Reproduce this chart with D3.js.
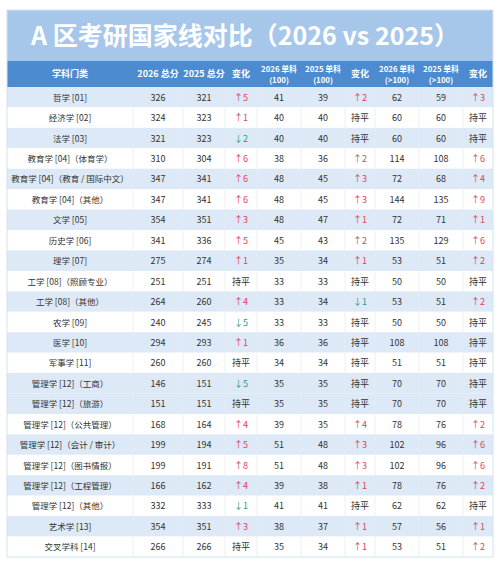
<!DOCTYPE html>
<html><head><meta charset="utf-8">
<script src="https://cdn.jsdelivr.net/npm/d3@7"></script>
<style>body{margin:0;background:#fff;}text{font-family:"Noto Sans CJK SC","Noto Sans",sans-serif;}</style>
</head><body><svg id="c" width="500" height="561"></svg>
<script>
const headers = [["学科门类"],["2026 总分"],["2025 总分"],["变化"],["2026 单科","(100)"],["2025 单科","(100)"],["变化"],["2026 单科","(>100)"],["2025 单科","(>100)"],["变化"]];
const subjects = ["哲学 [01]","经济学 [02]","法学 [03]","教育学 [04]（体育学）","教育学 [04]（教育 / 国际中文）","教育学 [04]（其他）","文学 [05]","历史学 [06]","理学 [07]","工学 [08]（照顾专业）","工学 [08]（其他）","农学 [09]","医学 [10]","军事学 [11]","管理学 [12]（工商）","管理学 [12]（旅游）","管理学 [12]（公共管理）","管理学 [12]（会计 / 审计）","管理学 [12]（图书情报）","管理学 [12]（工程管理）","管理学 [12]（其他）","艺术学 [13]","交叉学科 [14]"];
const total2026 = [326,324,321,310,347,347,354,341,275,251,264,240,294,260,146,151,168,199,199,166,332,354,266];
const total2025 = [321,323,323,304,341,341,351,336,274,251,260,245,293,260,151,151,164,194,191,162,333,351,266];
const single100_2026 = [41,40,40,38,48,48,48,45,35,33,33,33,36,34,35,35,39,51,51,39,41,38,35];
const single100_2025 = [39,40,40,36,45,45,47,43,34,33,34,33,36,34,35,35,35,48,48,38,41,37,34];
const singleBig2026 = [62,60,60,114,72,144,72,135,53,50,53,50,108,51,70,70,78,102,102,78,62,57,53];
const singleBig2025 = [59,60,60,108,68,135,71,129,51,50,51,50,108,51,70,70,76,96,96,76,62,56,51];

const svg = d3.select("#c");
const colEdges = [7,133,183,225,257,301,345,375,419,463,493];
const rowY = d3.scaleBand().domain(d3.range(subjects.length)).range([87,557]);

svg.append("rect").attr("x",7).attr("y",10).attr("width",486).attr("height",51).attr("fill","#a7c7ea");
svg.append("text").attr("x",245).attr("y",45).attr("text-anchor","middle").attr("fill","#fff")
  .attr("font-size",25).attr("font-weight","bold").text("A 区考研国家线对比（2026 vs 2025）");
svg.append("rect").attr("x",7).attr("y",61).attr("width",486).attr("height",26).attr("fill","#4d8bd0");

headers.forEach((h,i)=>{
  const cx = (colEdges[i]+colEdges[i+1])/2;
  const t = svg.append("text").attr("text-anchor","middle").attr("fill","#fff").attr("font-size",h.length===1?9:7.8).attr("font-weight","bold");
  if(h.length===1) t.append("tspan").attr("x",cx).attr("y",77).text(h[0]);
  else { t.append("tspan").attr("x",cx).attr("y",72).text(h[0]); t.append("tspan").attr("x",cx).attr("y",83).text(h[1]); }
});

function change(a,b){
  const d=a-b;
  if(d===0) return {t:"持平",c:"#333"};
  return d>0?{t:"↑"+d,c:"#e0445a"}:{t:"↓"+(-d),c:"#1f9e7a"};
}

subjects.forEach((s,i)=>{
  const y = rowY(i), h = rowY.bandwidth();
  const blue = i<=15 ? (i%2===0 || i===15) : (i%2===1);
  svg.append("rect").attr("x",7).attr("y",y).attr("width",486).attr("height",h).attr("fill",blue?"#dde9f6":"#fff");
  const cells = [{t:s,c:"#333"},{t:total2026[i],c:"#333"},{t:total2025[i],c:"#333"},change(total2026[i],total2025[i]),
    {t:single100_2026[i],c:"#333"},{t:single100_2025[i],c:"#333"},change(single100_2026[i],single100_2025[i]),
    {t:singleBig2026[i],c:"#333"},{t:singleBig2025[i],c:"#333"},change(singleBig2026[i],singleBig2025[i])];
  cells.forEach((c,j)=>{
    svg.append("text").attr("x",(colEdges[j]+colEdges[j+1])/2).attr("y",y+h/2+3.5).attr("text-anchor","middle")
      .attr("font-size",j===0?8.5:9).attr("fill",c.c).text(c.t);
  });
});
svg.selectAll("line.v").data(colEdges.slice(1,-1)).join("line").attr("x1",d=>d).attr("x2",d=>d)
  .attr("y1",87).attr("y2",557).attr("stroke","#e4ecf5").attr("stroke-width",0.8);
svg.append("rect").attr("x",7).attr("y",10).attr("width",486).attr("height",547).attr("fill","none").attr("stroke","#d5e2f0");
</script></body></html>
